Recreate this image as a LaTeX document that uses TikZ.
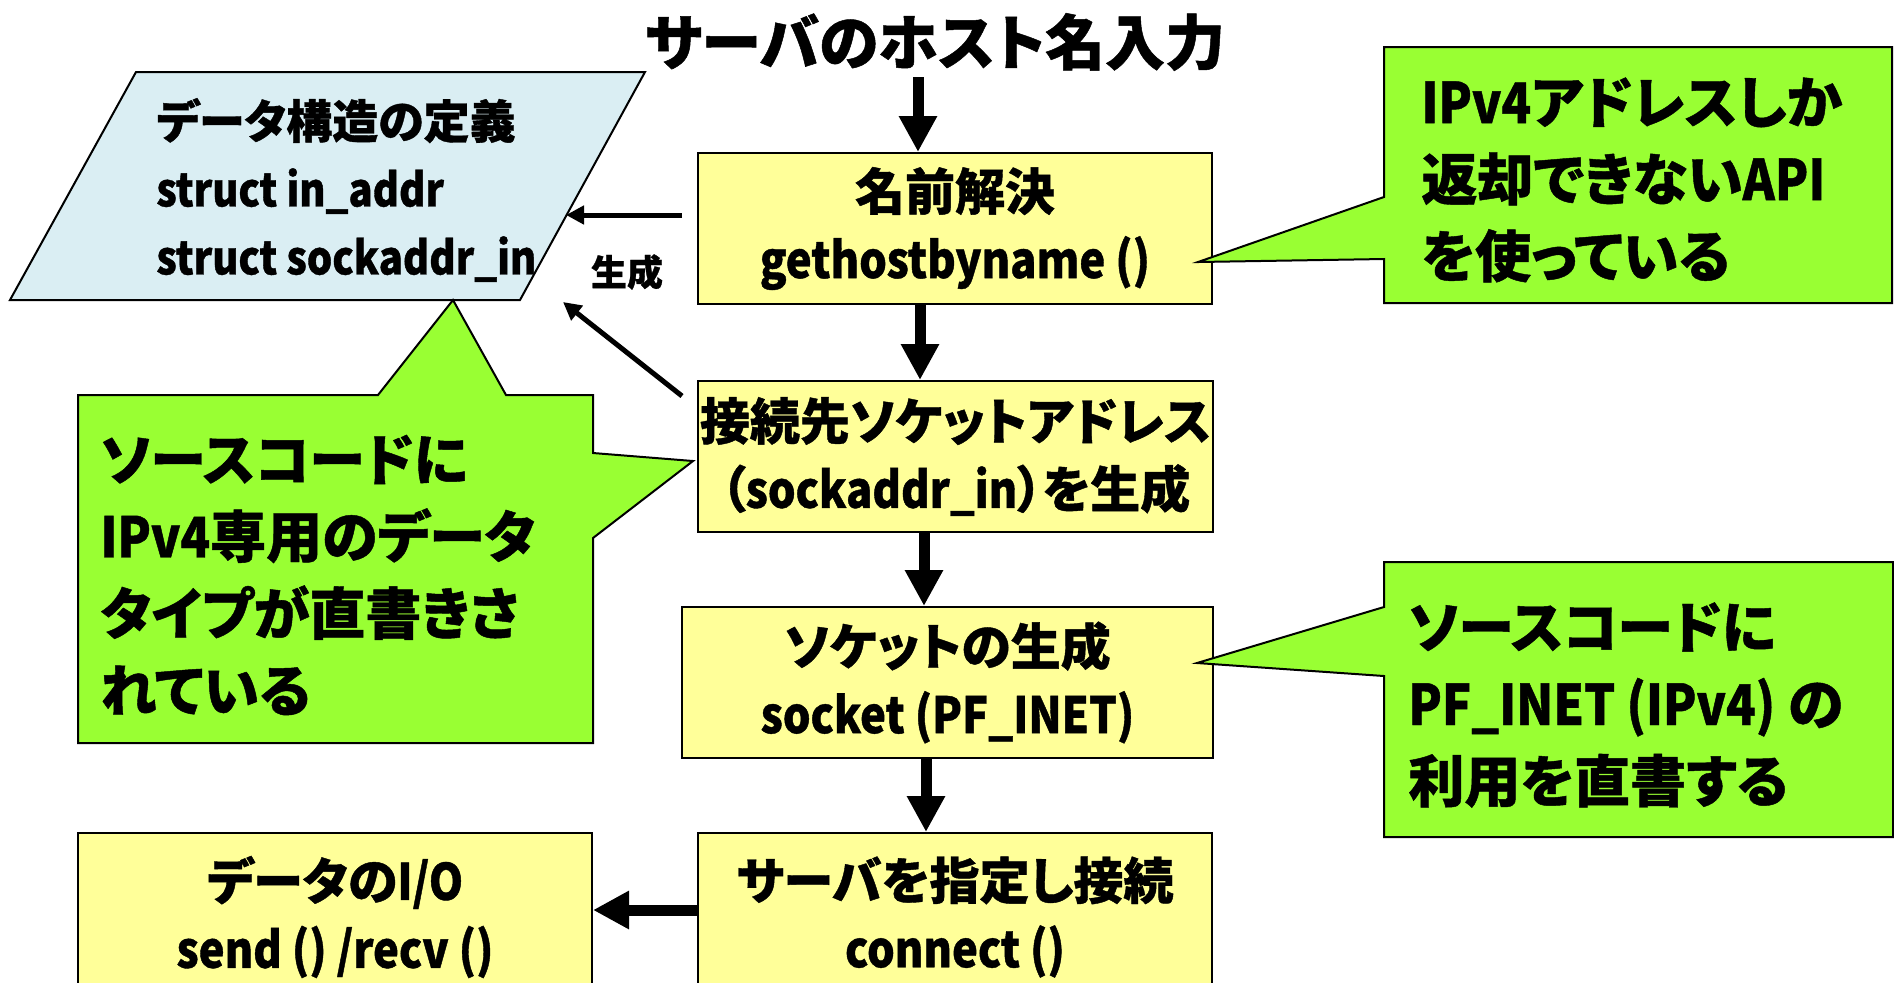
\documentclass[tikz,border=0pt]{standalone}
\usepackage{fontspec}
\setmainfont{Noto Sans CJK JP}[RawFeature=+palt, BoldFeatures={FakeBold=0.8}]
\newfontfamily\narlat{Noto Sans CJK JP}[FakeStretch=0.87, BoldFeatures={FakeBold=0.8}]
\usetikzlibrary{arrows.meta}
\definecolor{boxyellow}{HTML}{FFFF99}
\definecolor{callgreen}{HTML}{99FF33}
\definecolor{parablue}{HTML}{DAEEF3}
\begin{document}
\begin{tikzpicture}[x=0.5pt,y=-0.5pt,
  procbox/.style={draw=black, line width=1pt, fill=boxyellow, inner sep=0pt,
    align=center, font=\bfseries\fontsize{25}{34}\selectfont},
  callshape/.style={draw=black, line width=1pt, fill=callgreen, line join=miter},
  calltext/.style={anchor=west, align=left, inner sep=0pt,
    font=\bfseries\fontsize{28}{38.5}\selectfont},
  bigarrow/.style={line width=5.5pt, -{Triangle[length=18pt,width=18pt]}},
  thinarrow/.style={line width=2.5pt, -{Triangle[length=9pt,width=9pt]}}]
\useasboundingbox (0,0) rectangle (1894,982);

% title
\node[inner sep=0pt, font=\bfseries\fontsize{30}{36}\selectfont] (title) at (935,42) {サーバのホスト名入力};

% data structure parallelogram
\draw[fill=parablue, line width=1pt] (136,72) -- (645,72) -- (520,300) -- (10,300) -- cycle;
\node[anchor=west, align=left, inner sep=0pt, font=\bfseries\fontsize{23}{34}\selectfont] (defs) at (156,190)
  {データ構造の定義\\{\narlat struct in\_addr}\\{\narlat struct sockaddr\_in}};
\coordinate (pedge) at (566,215);
\coordinate (pcorner) at (563,302);

% process boxes
\node[procbox, minimum width=257pt, minimum height=75.5pt] (b1) at (955,228.5)
  {名前解決\\{\narlat gethostbyname ()}};
\node[procbox, minimum width=257.5pt, minimum height=75.5pt] (b2) at (955.5,456.5)
  {接続先ソケットアドレス\\（{\narlat sockaddr\_in}）を生成};
\node[procbox, minimum width=265.5pt, minimum height=75.5pt] (b3) at (947.5,682.5)
  {ソケットの生成\\{\narlat socket (PF\_INET)}};
\node[procbox, minimum width=257pt, minimum height=84pt] (b4) at (955,917)
  {サーバを指定し接続\\{\narlat connect ()}};
\node[procbox, minimum width=257pt, minimum height=84pt] (b5) at (335,917)
  {データの{\narlat I/O}\\{\narlat send () /recv ()}};

% arrow x positions
\coordinate (ax0) at (918,0);
\coordinate (ax1) at (920,0);
\coordinate (ax2) at (924,0);
\coordinate (ax3) at (926,0);

\draw[bigarrow] ([yshift=-3pt]title.south -| ax0) -- (b1.north -| ax0);
\draw[bigarrow] (b1.south -| ax1) -- (b2.north -| ax1);
\draw[bigarrow] (b2.south -| ax2) -- (b3.north -| ax2);
\draw[bigarrow] (b3.south -| ax3) -- (b4.north -| ax3);
\coordinate (ay4) at (0,910);
\draw[bigarrow] (b4.west |- ay4) -- (b5.east |- ay4);

% thin arrows to data definitions
\draw[thinarrow] ([xshift=-7.5pt]b1.west |- pedge) -- (pedge);
\draw[thinarrow] ([shift={(-15,16)}]b2.north west) -- (pcorner);
\node[inner sep=0pt, font=\bfseries\fontsize{18}{22}\selectfont] (gen) at (627,272) {生成};

% callout 1
\draw[callshape] (1384,47) -- (1892,47) -- (1892,303) -- (1384,303) -- (1384,259)
  -- (1198,262) -- (1384,197) -- cycle;
\node[calltext] (c1) at (1421,180) {{\narlat IPv4}アドレスしか\\返却できない{\narlat API}\\を使っている};

% callout 2
\draw[callshape] (78,395) -- (378,395) -- (453,300) -- (506,395) -- (593,395) -- (593,453)
  -- (693,461) -- (593,538) -- (593,743) -- (78,743) -- cycle;
\node[calltext] (c2) at (100,575) {ソースコードに\\{\narlat IPv4}専用のデータ\\タイプが直書きさ\\れている};

% callout 3
\draw[callshape] (1384,562) -- (1893,562) -- (1893,837) -- (1384,837) -- (1384,676)
  -- (1197,663) -- (1384,607) -- cycle;
\node[calltext] (c3) at (1408,705) {ソースコードに\\{\narlat PF\_INET (IPv4)} の\\利用を直書する};
\end{tikzpicture}
\end{document}
